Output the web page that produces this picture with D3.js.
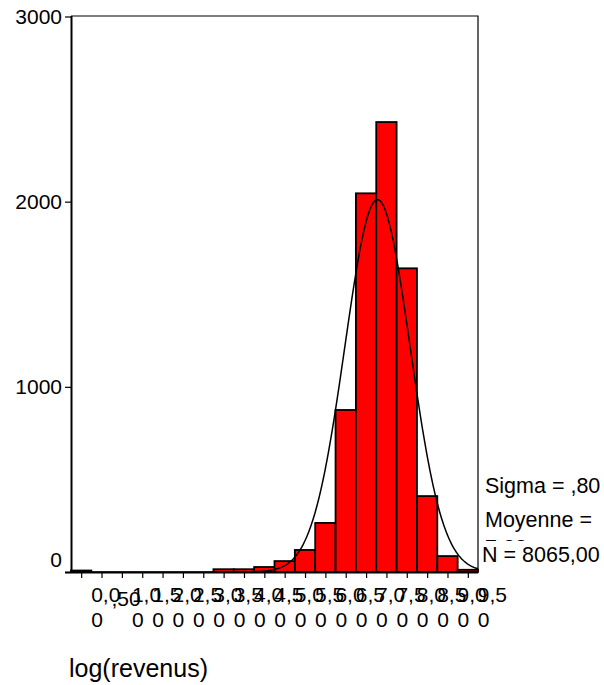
<!DOCTYPE html>
<html>
<head>
<meta charset="utf-8">
<script src="https://cdn.jsdelivr.net/npm/d3@7"></script>
<style>
    body { margin: 0; background: #fff; }
    text { font-family: Arial, "Liberation Sans", sans-serif; fill: #000; }
</style>
</head>
<body>
<div id="chart"></div>
<script>
'use strict';

/*
Data
 */

// Bin midpoints of log(revenus)
const binMids = [0, 0.5, 1, 1.5, 2, 2.5, 3, 3.5, 4, 4.5, 5, 5.5, 6, 6.5, 7, 7.5, 8, 8.5, 9, 9.5];
// Frequencies
const binCounts = [8, 0, 0, 0, 0, 0, 0, 15, 15, 27, 59, 119, 265, 875, 2045, 2430, 1640, 410, 86, 12];
// Tick labels as printed (French decimals)
const tickLabels = ['0,00', ',50', '1,00', '1,50', '2,00', '2,50', '3,00', '3,50', '4,00', '4,50',
    '5,00', '5,50', '6,00', '6,50', '7,00', '7,50', '8,00', '8,50', '9,00', '9,50'];
const yTicks = [0, 1000, 2000, 3000];
// Summary stats for the fitted normal curve
const statSigma = 0.80;
const statMean = 7.28;
const statN = 8065;
const binWidth = 0.5;

/*
Histogram
 */

class Histogram {

    svgW = 604;
    svgH = 685;
    plot = {left: 71, right: 478, top: 16, bottom: 572};

    xScale = d3.scaleLinear()
        .domain([-0.25, 9.75])
        .range([this.plot.left, this.plot.right]);
    yScale = d3.scaleLinear()
        .domain([0, 3000])
        .range([this.plot.bottom, this.plot.top + 0.5]);

    constructor(_target) {
        this.target = _target;
        this.init();
    }

    init() {
        const vis = this;
        vis.svg = d3.select(`#${vis.target}`)
            .append('svg')
            .attr('width', vis.svgW)
            .attr('height', vis.svgH);
        vis.g = vis.svg.append('g');
        vis.wrangle();
    }

    wrangle() {
        const vis = this;
        vis.bins = binMids.map((m, i) => ({mid: m, count: binCounts[i], label: tickLabels[i]}));

        // Normal curve scaled to counts
        const peak = statN * binWidth / (statSigma * Math.sqrt(2 * Math.PI));
        const dom = vis.xScale.domain();
        vis.curve = d3.range(dom[0], dom[1] + 0.001, 0.02).map(x => {
            const z = (x - statMean) / statSigma;
            return [x, peak * Math.exp(-0.5 * z * z)];
        });
        vis.render();
    }

    render() {
        const vis = this;
        const x = vis.xScale, y = vis.yScale;
        const w = x(binWidth) - x(0);

        // Bars
        vis.g.append('g')
            .selectAll('rect')
            .data(vis.bins.filter(d => d.count > 0))
            .join('rect')
            .attr('x', d => x(d.mid - binWidth / 2))
            .attr('y', d => y(d.count))
            .attr('width', w)
            .attr('height', d => y(0) - y(d.count))
            .attr('fill', '#ff0000')
            .attr('stroke', '#000')
            .attr('stroke-width', 1.8);

        // Normal curve
        vis.g.append('path')
            .datum(vis.curve)
            .attr('fill', 'none')
            .attr('stroke', '#000')
            .attr('stroke-width', 1.5)
            .attr('d', d3.line().x(d => x(d[0])).y(d => y(d[1])));

        // Frame
        const p = vis.plot;
        vis.g.append('path')
            .attr('fill', 'none')
            .attr('stroke', '#000')
            .attr('stroke-width', 1.2)
            .attr('d', `M${p.left},${p.top}H${p.right}V${p.bottom}`);

        // Y axis
        const yAxis = vis.g.append('g')
            .attr('transform', `translate(${p.left},0)`)
            .call(d3.axisLeft(y).tickValues(yTicks).tickSize(6).tickSizeOuter(0).tickFormat(d3.format('d')));
        yAxis.select('.domain').attr('stroke-width', 2).attr('d', `M0.5,${p.top}V${p.bottom}`);
        yAxis.selectAll('.tick line').attr('stroke-width', 1.2);
        yAxis.selectAll('.tick text')
            .attr('x', -9)
            .attr('dy', d => d === 0 ? '-0.25em' : '0.34em')
            .style('font-size', '21px')
            .style('font-family', 'Arial, "Liberation Sans", sans-serif');

        // X axis: ticks at bin midpoints
        const xAxis = vis.g.append('g')
            .attr('transform', `translate(0,${p.bottom})`)
            .call(d3.axisBottom(x).tickValues(binMids).tickSize(6).tickSizeOuter(0).tickFormat(''));
        xAxis.select('.domain').attr('stroke-width', 2).attr('d', `M${p.left - 6},0.5H${p.right}`);
        xAxis.selectAll('.tick line').attr('stroke-width', 1.2);

        // Wrapped tick labels, left aligned just right of each tick
        const lab = vis.g.append('g').attr('class', 'xLabels').style('font-size', '21px');
        vis.bins.forEach(d => {
            const tx = x(d.mid) + 10;
            if (d.label.length <= 3) {
                lab.append('text').attr('x', tx).attr('y', 606).text(d.label);
            } else {
                lab.append('text').attr('x', tx).attr('y', 602).text(d.label.slice(0, 3));
                lab.append('text').attr('x', tx).attr('y', 627).text(d.label.slice(3));
            }
        });

        // Axis title
        vis.g.append('text')
            .attr('x', 69)
            .attr('y', 677)
            .style('font-size', '25px')
            .text('log(revenus)');

        // Stats block
        const stats = vis.g.append('g').style('font-size', '21.5px');
        stats.append('text').attr('x', 485).attr('y', 493).text(`Sigma = ${d3.format('.2f')(statSigma).replace('0.', ',')}`);
        stats.append('text').attr('x', 485).attr('y', 527).text('Moyenne =');
        stats.append('text').attr('x', 485).attr('y', 555).text(String(statMean.toFixed(2)).replace('.', ','));
        stats.append('rect').attr('x', 480).attr('y', 541).attr('width', 124).attr('height', 30).attr('fill', '#fff');
        stats.append('text').attr('x', 482).attr('y', 562).text(`N = ${statN},00`);
    }
}

new Histogram('chart');
</script>
</body>
</html>
